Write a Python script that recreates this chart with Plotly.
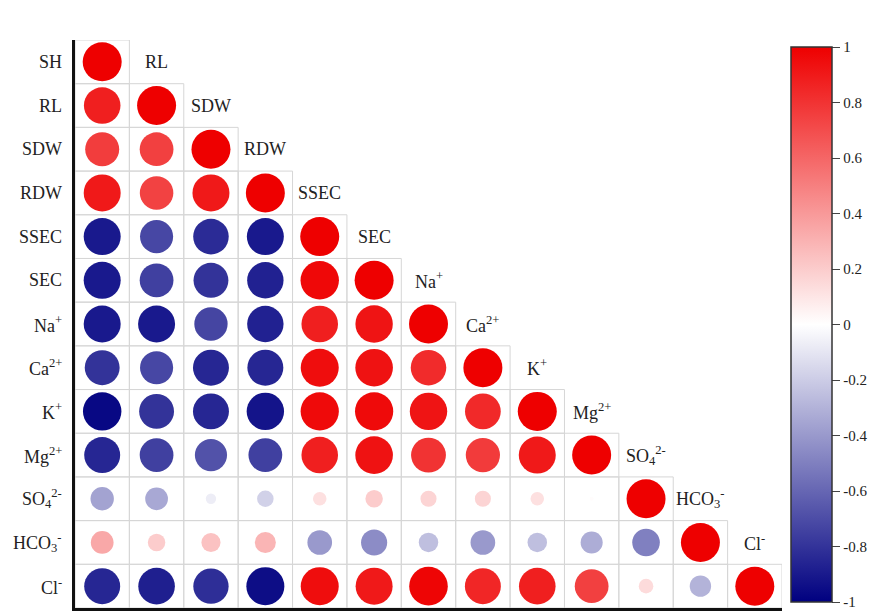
import numpy as np
import plotly.graph_objects as go

# Variables of the correlation matrix (row / column order)
variables = ["SH", "RL", "SDW", "RDW", "SSEC", "SEC", "Na<sup>+</sup>", "Ca<sup>2+</sup>",
             "K<sup>+</sup>", "Mg<sup>2+</sup>", "SO<sub>4</sub><sup>2-</sup>",
             "HCO<sub>3</sub><sup>-</sup>", "Cl<sup>-</sup>"]

# Lower triangle of the Pearson correlation matrix, row by row
corr_rows = [
    [1.00],
    [0.88, 1.00],
    [0.76, 0.75, 1.00],
    [0.90, 0.74, 0.90, 1.00],
    [-0.90, -0.72, -0.83, -0.90, 1.00],
    [-0.90, -0.75, -0.80, -0.87, 0.97, 1.00],
    [-0.90, -0.90, -0.73, -0.87, 0.88, 0.92, 1.00],
    [-0.80, -0.72, -0.85, -0.85, 0.95, 0.93, 0.83, 1.00],
    [-0.97, -0.80, -0.85, -0.92, 0.96, 0.96, 0.92, 0.84, 1.00],
    [-0.85, -0.75, -0.68, -0.75, 0.88, 0.93, 0.80, 0.77, 0.90, 1.00],
    [-0.36, -0.34, -0.07, -0.18, 0.12, 0.20, 0.17, 0.17, 0.12, 0.01, 1.00],
    [0.34, 0.20, 0.24, 0.29, -0.40, -0.45, -0.25, -0.40, -0.25, -0.32, -0.50, 1.00],
    [-0.85, -0.88, -0.82, -0.95, 0.95, 0.90, 0.98, 0.85, 0.88, 0.75, 0.14, -0.30, 1.00],
]

n = len(variables)
xs, ys, rs = [], [], []
for i, row in enumerate(corr_rows):
    for j, r in enumerate(row):
        xs.append(j)
        ys.append(i)
        rs.append(r)
rs = np.array(rs)

MAX_D = 39  # circle diameter (px) for |r| = 1; circle area scales with |r|
sizes = np.sqrt(np.abs(rs)) * MAX_D

colorscale = [[0.0, "#000080"], [0.5, "#FFFFFF"], [1.0, "#EE0000"]]

fig = go.Figure()

# light grey cell borders of the lower triangle
shapes = []
for i in range(n):
    for j in range(i + 1):
        shapes.append(dict(type="rect", xref="x", yref="y",
                           x0=j - 0.5, x1=j + 0.5, y0=i - 0.5, y1=i + 0.5,
                           line=dict(color="#D6D6D6", width=1), layer="below"))

# plot area spans x 75..782 px and y 40..608 px
PLOT_W, PLOT_H = 707, 568
tick_vals = [1, 0.8, 0.6, 0.4, 0.2, 0, -0.2, -0.4, -0.6, -0.8, -1]
fig.add_trace(go.Scatter(
    x=xs, y=ys, mode="markers", hoverinfo="skip", cliponaxis=False,
    marker=dict(size=sizes, color=rs, cmin=-1, cmax=1, colorscale=colorscale,
                opacity=1, line=dict(width=0),
                colorbar=dict(
                    x=(791 - 75) / PLOT_W, xanchor="left",
                    y=(608 - 47) / PLOT_H, yanchor="top",
                    lenmode="fraction", len=(602 - 47) / PLOT_H,
                    thicknessmode="pixels", thickness=41,
                    outlinecolor="#333333", outlinewidth=1.5,
                    ticks="outside", ticklen=8, tickwidth=1, tickcolor="#444444",
                    tickvals=tick_vals, ticktext=[f"{v:g}" for v in tick_vals],
                    tickfont=dict(family="Liberation Serif", size=15, color="#222222"),
                    xpad=0, ypad=0,
                )),
))

annotations = []
font = dict(family="Liberation Serif", size=18, color="#222222")
for i, name in enumerate(variables):
    # row labels to the left of the axis
    annotations.append(dict(x=0, xref="paper", y=i, yref="y", text=name,
                            showarrow=False, xanchor="right", yanchor="middle",
                            xshift=-11, font=font))
    # column labels just above each diagonal cell
    annotations.append(dict(x=i, xref="x", y=i - 1, yref="y", text=name,
                            showarrow=False, xanchor="center", yanchor="middle",
                            font=font))

fig.update_layout(
    width=877, height=611,
    margin=dict(l=75, r=95, t=40, b=3),
    paper_bgcolor="white", plot_bgcolor="white",
    showlegend=False,
    shapes=shapes, annotations=annotations,
    xaxis=dict(range=[-0.5, n - 0.5], showgrid=False, zeroline=False,
               showticklabels=False, ticks="", showline=True,
               linecolor="#111111", linewidth=2.5, fixedrange=True),
    yaxis=dict(range=[n - 0.5, -0.5], showgrid=False, zeroline=False,
               showticklabels=False, ticks="", showline=True,
               linecolor="#111111", linewidth=2.5, fixedrange=True),
)

fig.write_html("out.html")
